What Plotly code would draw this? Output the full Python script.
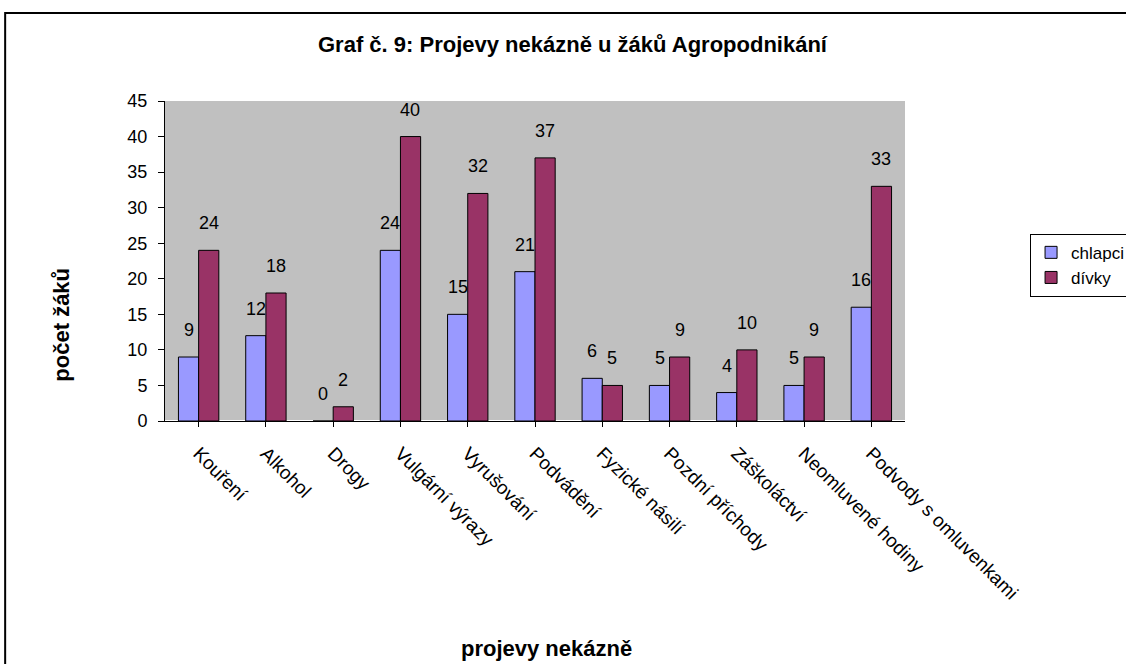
import plotly.graph_objects as go

categories = ["Kouření", "Alkohol", "Drogy", "Vulgární výrazy", "Vyrušování", "Podvádění",
              "Fyzické násilí", "Pozdní příchody", "Záškoláctví", "Neomluvené hodiny",
              "Podvody s omluvenkami"]
chlapci = [9, 12, 0, 24, 15, 21, 6, 5, 4, 5, 16]
divky = [24, 18, 2, 40, 32, 37, 5, 9, 10, 9, 33]

font = "Liberation Sans, Arial, sans-serif"

fig = go.Figure()
fig.add_trace(go.Bar(x=categories, y=chlapci, name="chlapci",
                     marker=dict(color="#9999FF", line=dict(color="black", width=1))))
fig.add_trace(go.Bar(x=categories, y=divky, name="dívky",
                     marker=dict(color="#993366", line=dict(color="black", width=1))))

# value labels sit well above the bars, like the Excel original
labels = []
for series, shift in ((chlapci, -10), (divky, 10)):
    for cat, val in zip(categories, series):
        labels.append(dict(x=cat, y=val, text=str(val), showarrow=False,
                           xshift=shift, yshift=27, font=dict(size=18)))

fig.update_layout(
    width=1126, height=664,
    margin=dict(l=165, r=221, t=101, b=243, autoexpand=False),
    paper_bgcolor="white", plot_bgcolor="#C0C0C0",
    font=dict(family=font, size=18, color="black"),
    barmode="group", bargap=0.4, bargroupgap=0,
    showlegend=True,
    legend=dict(x=1.169, y=0.585, xanchor="left", yanchor="top",
                bordercolor="black", borderwidth=1, bgcolor="white",
                font=dict(size=17), tracegroupgap=0, itemwidth=30),
    xaxis=dict(tickangle=45, showline=True, linecolor="black", ticks="outside",
               tickcolor="black", ticklen=5, showgrid=False, automargin=False,
               ticklabelstandoff=8, tickfont=dict(size=19)),
    yaxis=dict(range=[0, 45], dtick=5, showline=True, linecolor="black",
               ticks="outside", tickcolor="black", ticklen=6, showgrid=False,
               automargin=False, ticklabelstandoff=7, tickfont=dict(size=18)),
    shapes=[dict(type="rect", xref="paper", yref="paper", x0=-0.216, x1=1.4,
                 y0=-1.0, y1=1.275, line=dict(color="black", width=2),
                 fillcolor="rgba(0,0,0,0)", layer="below")],
    annotations=labels + [
        dict(text="<b>Graf č. 9: Projevy nekázně u žáků Agropodnikání</b>",
             xref="paper", yref="paper", x=0.551, y=1.175, xanchor="center",
             yanchor="middle", showarrow=False, font=dict(size=22)),
        dict(text="<b>počet žáků</b>", xref="paper", yref="paper",
             x=-0.141, y=0.3, xanchor="center", yanchor="middle",
             textangle=-90, showarrow=False, font=dict(size=22)),
        dict(text="<b>projevy nekázně</b>", xref="paper", yref="paper",
             x=0.516, y=-0.711, xanchor="center", yanchor="middle",
             showarrow=False, font=dict(size=22)),
    ],
)

fig.write_html("out.html", config={"displayModeBar": False},
               post_script="document.body.style.margin='0';"
                           "document.body.style.overflow='hidden';")
